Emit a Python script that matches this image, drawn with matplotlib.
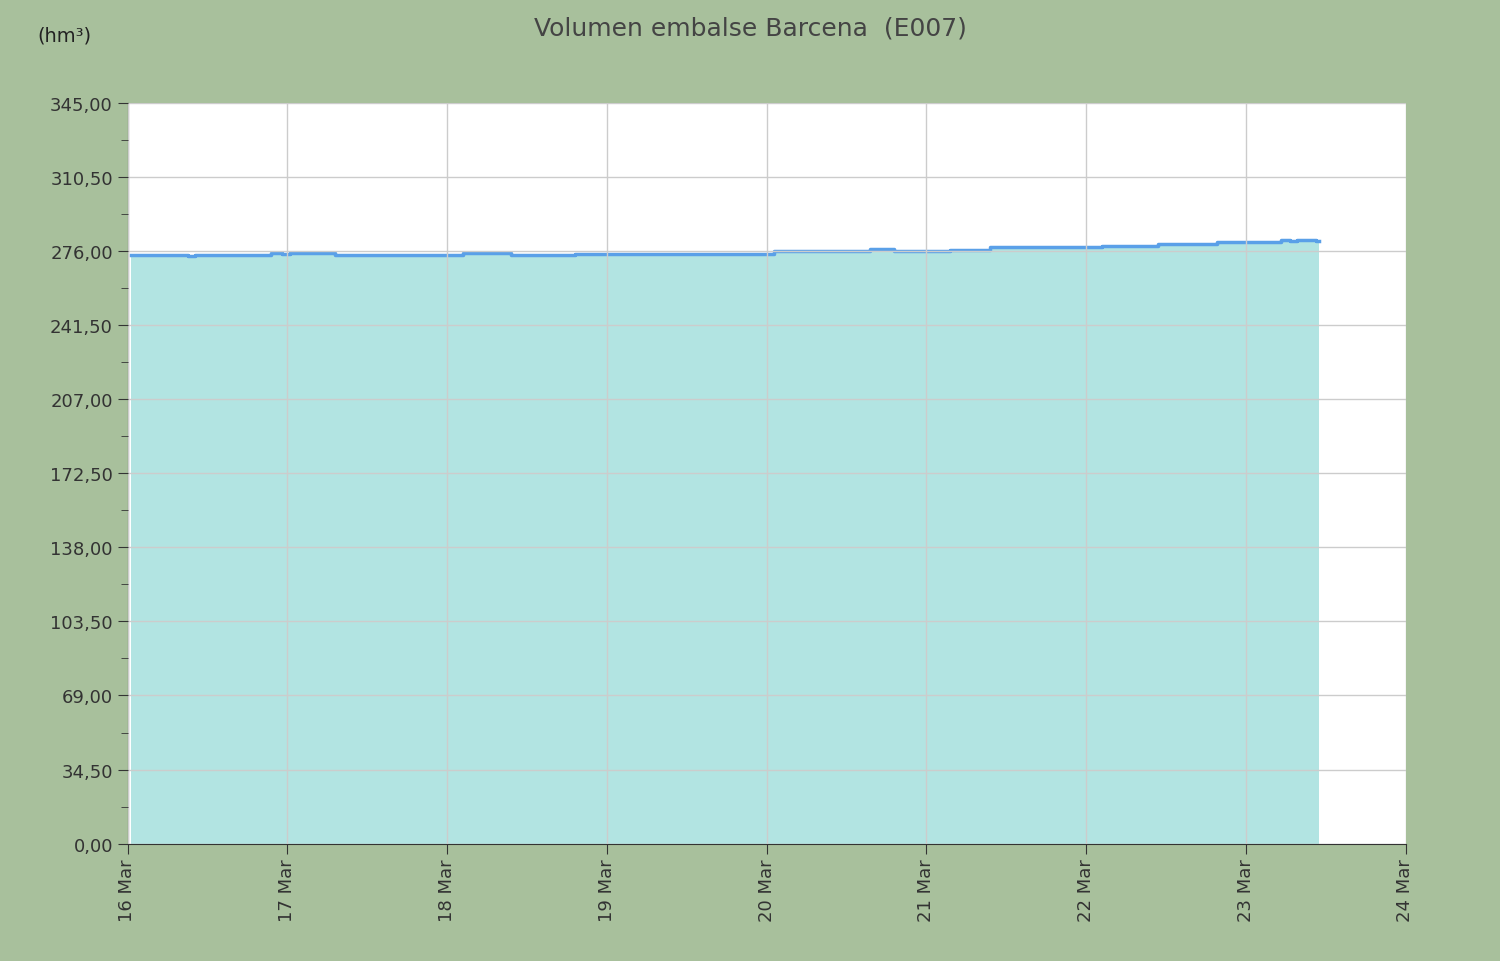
import matplotlib
matplotlib.use("Agg")
import matplotlib.pyplot as plt
import matplotlib.dates as mdates
import numpy as np
import datetime as dt

start = dt.datetime(2024, 3, 16)
day_offsets = [0.02, 0.38, 0.42, 0.9, 0.97, 1.02, 1.3, 2.1, 2.4, 2.8, 4.05, 4.65, 4.8, 5.15, 5.4, 6.1, 6.45, 6.82, 7.22, 7.28, 7.32, 7.44, 7.46]
volumes = [274.2, 273.7, 274.2, 274.9, 274.4, 274.9, 274.2, 274.9, 274.2, 274.7, 275.8, 276.8, 275.8, 276.5, 277.7, 278.4, 279.3, 280.3, 281.0, 280.5, 281.2, 280.7, 280.7]
yticks = [0, 34.5, 69, 103.5, 138, 172.5, 207, 241.5, 276, 310.5, 345]
xtick_labels = ["16 Mar", "17 Mar", "18 Mar", "19 Mar", "20 Mar", "21 Mar", "22 Mar", "23 Mar", "24 Mar"]

times = [start + dt.timedelta(days=d) for d in day_offsets]
bg = "#a8c09c"
fig = plt.figure(figsize=(15, 9.62), dpi=100, facecolor=bg)
ax = fig.add_axes([0.085, 0.122, 0.852, 0.77])
ax.fill_between(times, volumes, 0, step="post", color="#b2e4e2", lw=0)
ax.step(times, volumes, where="post", color="#5aa0e8", lw=2.5)
ax.set_xlim(start, start + dt.timedelta(days=8))
ax.set_ylim(0, 345)
ax.set_yticks(yticks)
ax.set_yticklabels([f"{v:.2f}".replace(".", ",") for v in yticks], fontsize=13, color="#333333")
ax.set_yticks(np.arange(17.25, 345, 34.5), minor=True)
ticks = [start + dt.timedelta(days=i) for i in range(9)]
ax.set_xticks(ticks)
ax.set_xticklabels(xtick_labels, rotation=90, fontsize=13, color="#333333")
ax.grid(True, color="#cccccc", lw=1)
ax.set_axisbelow(False)
for s in ["top", "right"]:
    ax.spines[s].set_visible(False)
for s in ["left", "bottom"]:
    ax.spines[s].set_color("#333333")
ax.tick_params(axis="both", which="major", length=7, color="#333333")
ax.tick_params(axis="y", which="minor", length=5, color="#333333")
fig.text(0.5, 0.97, "Volumen embalse Barcena  (E007)", ha="center", va="center", fontsize=18, color="#444444")
fig.text(0.025, 0.963, "(hm³)", ha="left", va="center", fontsize=14, color="#222222")
fig.savefig("out.png", facecolor=bg)
